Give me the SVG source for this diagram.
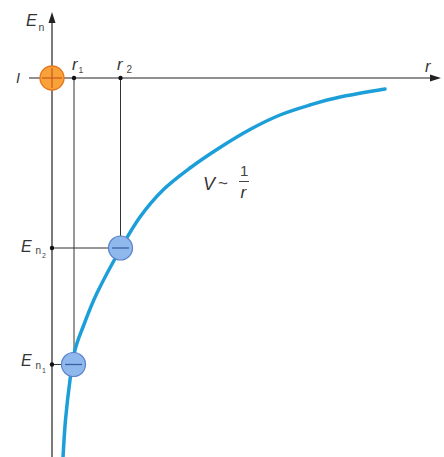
<svg xmlns="http://www.w3.org/2000/svg" width="444" height="457" viewBox="0 0 444 457">
<style>
.ax{stroke:#222;stroke-width:1.2;fill:none}
.ln{stroke:#333;stroke-width:1;fill:none}
.t{font-family:"Liberation Sans",Arial,sans-serif;font-style:italic;fill:#333}
.s{font-family:"Liberation Sans",Arial,sans-serif;fill:#444}
.neg{fill:#8fb8ec;stroke:#5b82cc;stroke-width:1.2}
.bar{stroke:#3c5fa8;stroke-width:1.3}
</style>
<rect width="444" height="457" fill="#fff"/>
<g id="connectors">
<line class="ax" x1="52" y1="457" x2="52" y2="20"/>
<polygon points="52,12 48.5,23 55.5,23" fill="#222"/>
<line class="ax" x1="29" y1="78" x2="432" y2="78"/>
<polygon points="441,78 430,74.5 430,81.5" fill="#222"/>
<line class="ln" x1="74" y1="78" x2="74" y2="352"/>
<line class="ln" x1="120.5" y1="78" x2="120.5" y2="236"/>
<line class="ln" x1="52" y1="248" x2="108.5" y2="248"/>
<line class="ln" x1="52" y1="364.5" x2="61" y2="364.5"/>
<circle cx="74" cy="78" r="2.2" fill="#111"/>
<circle cx="120.5" cy="78" r="2.2" fill="#111"/>
<circle cx="52" cy="248" r="2.2" fill="#111"/>
<circle cx="52" cy="364.5" r="2.2" fill="#111"/>
<path id="curve" d="M63,457 C63.42,450.83 64.33,432.83 65.5,420 C66.67,407.17 68.42,391.67 70,380 C71.58,368.33 72.83,358.83 75,350 C77.17,341.17 79.33,336.5 83,327 C86.67,317.5 90.67,306.17 97,293 C103.33,279.83 113.83,260.67 121,248 C128.17,235.33 133,226.67 140,217 C147,207.33 154.67,198.17 163,190 C171.33,181.83 180.5,175.08 190,168 C199.5,160.92 210,153.92 220,147.5 C230,141.08 240,134.92 250,129.5 C260,124.08 270,119.08 280,115 C290,110.92 300,108 310,105 C320,102 327.5,99.67 340,97 C352.5,94.33 377.5,90.33 385,89" fill="none" stroke="#1c9fd9" stroke-width="3.5" stroke-linecap="round"/>
</g>
<g id="nucleus">
<circle cx="52" cy="78" r="12" fill="#f9a23a" stroke="#e8761e" stroke-width="1.3"/>
<line x1="42" y1="78" x2="62" y2="78" stroke="#c9581a" stroke-width="1.2"/>
<line x1="52" y1="68" x2="52" y2="88" stroke="#c9581a" stroke-width="1.2"/>
</g>
<g id="electron2">
<circle class="neg" cx="120.5" cy="248" r="12"/>
<line class="bar" x1="112" y1="248" x2="129" y2="248"/>
</g>
<g id="electron1">
<circle class="neg" cx="73.5" cy="364.5" r="12"/>
<line class="bar" x1="65" y1="364.5" x2="82" y2="364.5"/>
</g>
<g id="labels">
<text class="t" x="26" y="26" font-size="16.5">E</text>
<text class="s" x="38.5" y="30.5" font-size="10.5">n</text>
<text class="t" x="16" y="83" font-size="14.5">I</text>
<text class="t" x="72" y="70" font-size="16.5">r</text>
<text class="s" x="78.5" y="73" font-size="8.5">1</text>
<text class="t" x="117" y="70" font-size="16.5">r</text>
<text class="s" x="126.5" y="72.5" font-size="10">2</text>
<text class="t" x="425" y="72" font-size="16.5">r</text>
<text class="t" x="21" y="251.5" font-size="16">E</text>
<text class="s" x="35.5" y="254" font-size="10">n</text>
<text class="s" x="42" y="257.5" font-size="7">2</text>
<text class="t" x="21" y="366" font-size="16">E</text>
<text class="s" x="35.5" y="369" font-size="10">n</text>
<text class="s" x="42" y="373" font-size="7">1</text>
<text class="t" x="203" y="190" font-size="18">V</text>
<text class="s" x="218" y="189" font-size="17">~</text>
<text class="s" x="240" y="176" font-size="15">1</text>
<line x1="239" y1="181.5" x2="249" y2="181.5" stroke="#444" stroke-width="1"/>
<text class="t" x="240.5" y="198" font-size="17">r</text>
</g>
</svg>
